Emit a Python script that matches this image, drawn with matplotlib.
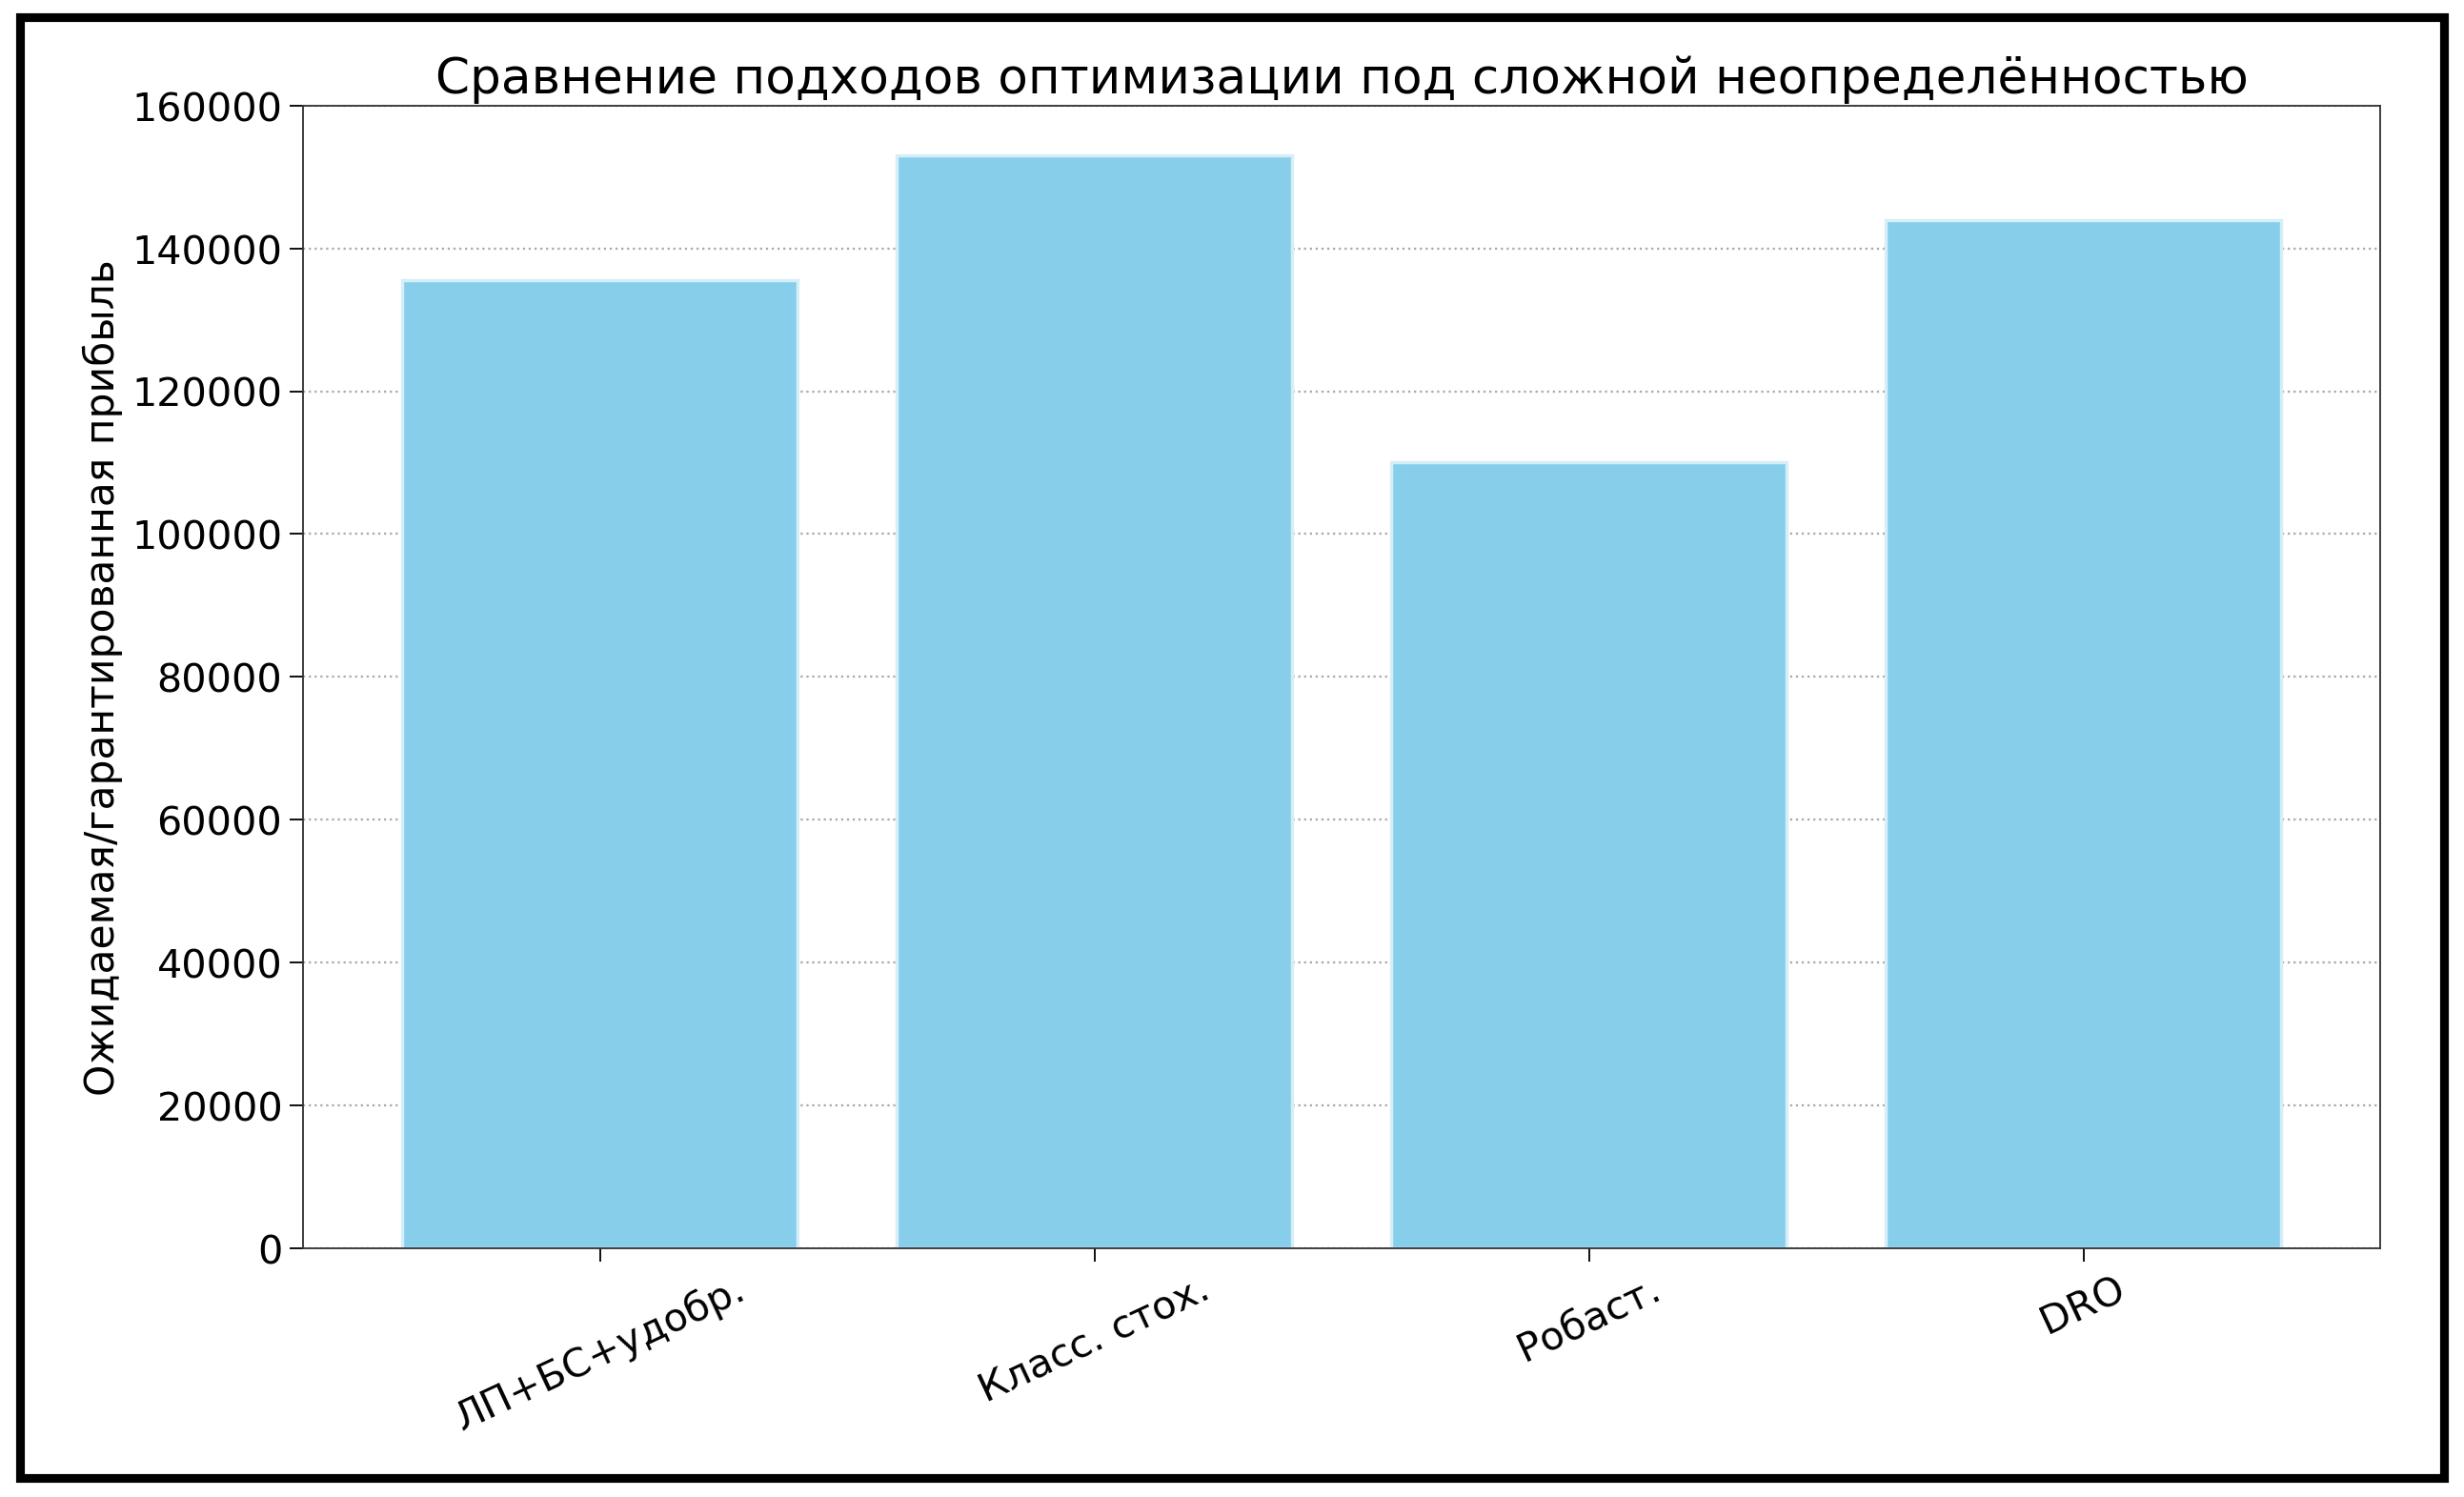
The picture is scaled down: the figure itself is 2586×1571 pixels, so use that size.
import matplotlib.pyplot as plt
from matplotlib.patches import Rectangle

# data
methods = ['ЛП+БС+удобр.', 'Класс. стох.', 'Робаст.', 'DRO']
profits = [135500, 153000, 110000, 144000]
yticks = [0, 20000, 40000, 60000, 80000, 100000, 120000, 140000, 160000]

fig = plt.figure(figsize=(15.673, 9.527), dpi=165)
ax = fig.add_axes([0.123, 0.166, 0.843, 0.763])

ax.bar(methods, profits, color='skyblue', edgecolor='#d6eef8', linewidth=1.5, width=0.8, zorder=2)
ax.set_ylim(0, 160000)
ax.set_yticks(yticks)
ax.set_xlim(-0.6, 3.6)
ax.grid(axis='y', linestyle=':', color='#aaaaaa', linewidth=1, zorder=0)
ax.set_title('Сравнение подходов оптимизации под сложной неопределённостью', fontsize=22.5, pad=6)
ax.set_ylabel('Ожидаемая/гарантированная прибыль', fontsize=18.5)
ax.tick_params(axis='both', labelsize=18, length=6)
plt.setp(ax.get_xticklabels(), rotation=25, ha='center')
for s in ax.spines.values():
    s.set_color('#333333')

# black frame around the whole picture
fig.patches.append(Rectangle((0.008, 0.013), 0.984, 0.975, transform=fig.transFigure,
                             fill=False, edgecolor='black', linewidth=4))

fig.savefig('out.png', dpi=165)
